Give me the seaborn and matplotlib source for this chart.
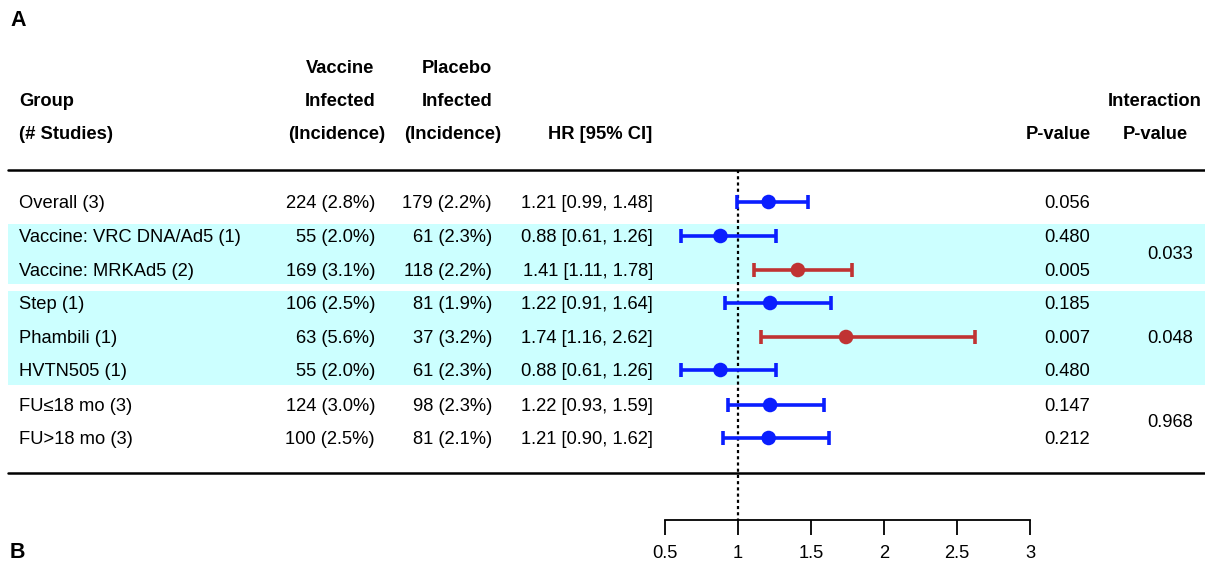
import matplotlib
matplotlib.use("Agg")
import matplotlib.pyplot as plt
import seaborn as sns
import pandas as pd
from matplotlib.patches import Rectangle

sns.set_theme(style="white")
plt.rcParams['font.family'] = ['Liberation Sans', 'DejaVu Sans']
plt.rcParams['text.color'] = 'black'
plt.rcParams['xtick.color'] = 'black'
plt.rcParams['xtick.labelcolor'] = 'black'

# ---- data ----
groups = ["Overall (3)", "Vaccine: VRC DNA/Ad5 (1)", "Vaccine: MRKAd5 (2)",
          "Step (1)", "Phambili (1)", "HVTN505 (1)", "FU\u226418 mo (3)", "FU>18 mo (3)"]
vaccine_inf = ["224 (2.8%)", "55 (2.0%)", "169 (3.1%)", "106 (2.5%)",
               "63 (5.6%)", "55 (2.0%)", "124 (3.0%)", "100 (2.5%)"]
placebo_inf = ["179 (2.2%)", "61 (2.3%)", "118 (2.2%)", "81 (1.9%)",
               "37 (3.2%)", "61 (2.3%)", "98 (2.3%)", "81 (2.1%)"]
hr = [1.21, 0.88, 1.41, 1.22, 1.74, 0.88, 1.22, 1.21]
lo = [0.99, 0.61, 1.11, 0.91, 1.16, 0.61, 0.93, 0.90]
hi = [1.48, 1.26, 1.78, 1.64, 2.62, 1.26, 1.59, 1.62]
pvals = ["0.056", "0.480", "0.005", "0.185", "0.007", "0.480", "0.147", "0.212"]
inter_p = ["0.033", "0.048", "0.968"]
signif = [False, False, True, False, True, False, False, False]
x_ticks = [0.5, 1, 1.5, 2, 2.5, 3]

# ---- layout (pixel coordinates) ----
W, H = 1205, 565
row_y = [202, 236, 270, 303, 337, 370, 405, 438]
inter_y = [253, 337, 421]
fs = 13.2
dy = 1.5  # small baseline correction for text

fig = plt.figure(figsize=(W / 100, H / 100), dpi=100)
ax = fig.add_axes([0, 0, 1, 1])
ax.set_xlim(0, W)
ax.set_ylim(H, 0)
ax.axis("off")

shade = "#CCFFFF"
ax.add_patch(Rectangle((8, 224), W - 8, 60, facecolor=shade, edgecolor="none", zorder=0))
ax.add_patch(Rectangle((8, 291), W - 8, 94, facecolor=shade, edgecolor="none", zorder=0))

ax.plot([8, W], [170, 170], color="black", lw=1.8)
ax.plot([8, W], [473, 473], color="black", lw=1.8)

ax.text(10, 21, "A", fontsize=15.5, fontweight="bold", ha="left", va="center")
ax.text(10, 552, "B", fontsize=15.5, fontweight="bold", ha="left", va="center")

hb = dict(fontsize=fs, fontweight="bold", va="center")
ax.text(19, 100 + dy, "Group", ha="left", **hb)
ax.text(19, 133 + dy, "(# Studies)", ha="left", **hb)
ax.text(340, 67 + dy, "Vaccine", ha="center", **hb)
ax.text(340, 100 + dy, "Infected", ha="center", **hb)
ax.text(337, 133 + dy, "(Incidence)", ha="center", **hb)
ax.text(457, 67 + dy, "Placebo", ha="center", **hb)
ax.text(457, 100 + dy, "Infected", ha="center", **hb)
ax.text(453, 133 + dy, "(Incidence)", ha="center", **hb)
ax.text(652, 133 + dy, "HR [95% CI]", ha="right", **hb)
ax.text(1091, 133 + dy, "P-value", ha="right", **hb)
ax.text(1155, 100 + dy, "Interaction", ha="center", **hb)
ax.text(1155, 133 + dy, "P-value", ha="center", **hb)

for i, y in enumerate(row_y):
    y = y + dy
    ax.text(19, y, groups[i], fontsize=fs, ha="left", va="center")
    ax.text(375, y, vaccine_inf[i], fontsize=fs, ha="right", va="center")
    ax.text(492, y, placebo_inf[i], fontsize=fs, ha="right", va="center")
    ax.text(653, y, f"{hr[i]:.2f} [{lo[i]:.2f}, {hi[i]:.2f}]", fontsize=fs, ha="right", va="center")
    ax.text(1090, y, pvals[i], fontsize=fs, ha="right", va="center")
for p, y in zip(inter_p, inter_y):
    ax.text(1193, y + dy, p, fontsize=fs, ha="right", va="center")

# ---- forest axes ----
x0, x1 = 665, 1030
axf = fig.add_axes([x0 / W, 0, (x1 - x0) / W, 1])
axf.set_xlim(0.5, 3)
axf.set_ylim(H, 0)
axf.patch.set_alpha(0)
for s in ["top", "right", "left"]:
    axf.spines[s].set_visible(False)
axf.spines["bottom"].set_position(("data", 520))
axf.spines["bottom"].set_linewidth(1.3)
axf.spines["bottom"].set_color("black")
axf.set_yticks([])
axf.set_xticks(x_ticks)
axf.set_xticklabels(["0.5", "1", "1.5", "2", "2.5", "3"], fontsize=fs, color="black")
axf.tick_params(axis="x", direction="out", length=11, width=1.3, color="black", pad=7,
                bottom=True)

axf.plot([1, 1], [170, 520], color="black", lw=1.6, linestyle=(0, (1.4, 1.4)), zorder=1)

blue = "#0A1EFF"
red = "#C03333"
df = pd.DataFrame({"hr": hr, "y": row_y,
                   "sig": ["sig" if s else "ns" for s in signif]})
for i, y in enumerate(row_y):
    c = red if signif[i] else blue
    axf.errorbar(hr[i], y, xerr=[[hr[i] - lo[i]], [hi[i] - hr[i]]], fmt="none",
                 ecolor=c, elinewidth=2.6, capsize=5, capthick=2.6, zorder=2)
sns.scatterplot(data=df, x="hr", y="y", hue="sig", palette={"ns": blue, "sig": red},
                s=110, edgecolor="none", legend=False, ax=axf, zorder=3, clip_on=False)
axf.set_xlabel("")
axf.set_ylabel("")

fig.savefig("out.png", dpi=100)
